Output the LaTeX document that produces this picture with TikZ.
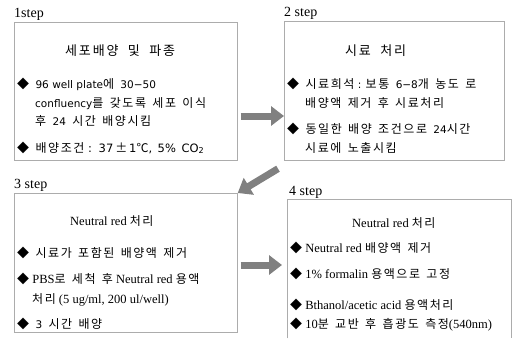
\documentclass[tikz,border=0pt]{standalone}
\usepackage{fontspec}
\setmainfont{Liberation Serif}
\newfontfamily\kr{Noto Sans CJK KR}[LetterSpace=13, WordSpace=1.5]
\newfontfamily\krt{Noto Sans CJK KR}[LetterSpace=14, WordSpace=2]
\newfontfamily\lat{DejaVu Sans}
\usetikzlibrary{arrows.meta}
\tikzset{
  box/.style={draw=gray!65, line width=0.7pt, inner sep=0pt, anchor=north west},
  steplbl/.style={anchor=base west, inner sep=0pt, font=\fontsize{14}{16}\selectfont},
  txt/.style={anchor=base west, inner sep=0pt, font=\kr\fontsize{12}{14}\selectfont},
  stxt/.style={anchor=base west, inner sep=0pt, font=\fontsize{12.5}{14}\selectfont},
  ttl/.style={anchor=base west, inner sep=0pt, font=\krt\fontsize{13}{15}\selectfont},
  sttl/.style={anchor=base west, inner sep=0pt, font=\fontsize{12.5}{14}\selectfont},
  blockarrow/.style={line width=7pt, draw=black!50, -{Triangle[width=19pt,length=13pt]}},
}
\newcommand{\bul}{{\kr\fontsize{12}{14}\selectfont ◆}\ }
\newcommand{\K}[1]{{\kr\fontsize{12}{14}\selectfont #1}}
\newcommand{\LA}[1]{{\lat\fontsize{10.5}{13}\selectfont #1}}
\newcommand{\LB}[1]{{\lat\fontsize{11.5}{13}\selectfont #1}}
\begin{document}
\begin{tikzpicture}[x=1pt,y=-1pt]
\useasboundingbox (0,0) rectangle (514,338);
% boxes
\node[box, minimum width=223pt, minimum height=138pt] (b1) at (14,22) {};
\node[box, minimum width=220pt, minimum height=139pt] (b2) at (284,21) {};
\node[box, minimum width=223pt, minimum height=139pt] (b3) at (14,193) {};
\node[inner sep=0pt, minimum width=224pt, minimum height=139pt, anchor=north west] (b4) at (287,199) {};
\draw[draw=gray!65, line width=0.7pt] (b4.south west) -- (b4.north west) -- (b4.north east) -- (b4.south east);
% step labels
\node[steplbl] (l1) at (14,17) {1step};
\node[steplbl] (l2) at (284,16) {2 step};
\node[steplbl] (l3) at (14,188) {3 step};
\node[steplbl] (l4) at (289,195) {4 step};
% box 1
\node[ttl] (t1) at (65,55) {세포배양 및 파종};
\node[txt] (t1a) at (17,88) {◆ \LA{96 well plate}에 \LA{30−50}};
\node[txt] (t1b) at (35,107) {\LA{confluency}를 갖도록 세포 이식};
\node[txt] (t1c) at (35,125) {후 \LA{24} 시간 배양시킴};
\node[txt] (t1d) at (17,152) {◆ 배양조건\LB{\ :\, 37\,}±\LB{\,1}℃\LB{,\, 5\%\, CO\textsubscript{2}}};
% box 2
\node[ttl] (t2) at (345,55) {시료 처리};
\node[txt] (t2a) at (287,88) {◆ 시료희석\LA{\ : }보통 \LA{6−8}개 농도 로};
\node[txt] (t2b) at (305,107) {배양액 제거 후 시료처리};
\node[txt] (t2c) at (287,133) {◆ 동일한 배양 조건으로 \LA{24}시간};
\node[txt] (t2d) at (305,152) {시료에 노출시킴};
% box 3
\node[sttl] (t3) at (70,225) {Neutral red \K{처리}};
\node[txt] (t3a) at (17,257) {◆ 시료가 포함된 배양액 제거};
\node[stxt] (t3b) at (17,283) {\bul PBS\K{로 세척 후} Neutral red \K{용액}};
\node[stxt] (t3c) at (32,303) {\K{처리} (5 ug/ml, 200 ul/well)};
\node[txt] (t3d) at (17,328) {◆ \LA{3} 시간 배양};
% box 4
\node[sttl] (t4) at (352,227) {Neutral red \K{처리}};
\node[stxt] (t4a) at (290,252) {\bul Neutral red \K{배양액 제거}};
\node[stxt] (t4b) at (290,278) {\bul 1\% formalin \K{용액으로 고정}};
\node[stxt] (t4c) at (290,309) {\bul Bthanol/acetic acid \K{용액처리}};
\node[stxt] (t4d) at (290,328) {\bul 10\K{분 교반 후 흡광도 측정}(540nm)};
% arrows
\draw[blockarrow] ([xshift=3pt]b1.east |- 0,116) -- (b2.west |- 0,116);
\draw[blockarrow] ([shift={(-6pt,-8pt)}]b2.south west) -- (b3.north east);
\draw[blockarrow] ([xshift=3pt]b3.east |- 0,265) -- ([xshift=-5pt]b4.west |- 0,265);
\end{tikzpicture}
\end{document}
